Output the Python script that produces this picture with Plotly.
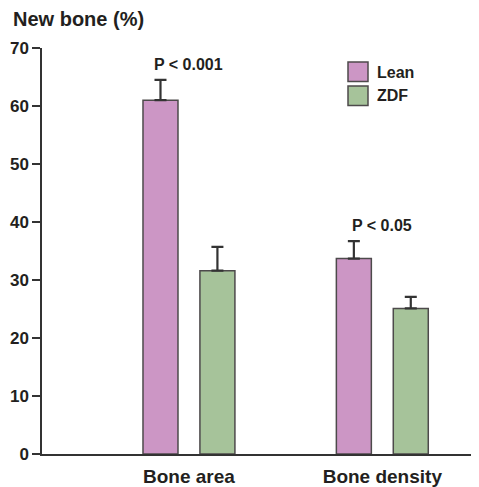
import plotly.graph_objects as go

categories = ["Bone area", "Bone density"]
lean_values = [61.0, 33.7]
lean_errors = [3.5, 3.0]
zdf_values = [31.6, 25.1]
zdf_errors = [4.1, 2.0]
p_labels = ["P < 0.001", "P < 0.05"]
y_ticks = [0, 10, 20, 30, 40, 50, 60, 70]

FONT = "Liberation Sans"
TXT = "#231f20"
LEAN_C = "#cc96c5"
ZDF_C = "#a6c39a"
EDGE = "#4d4a4b"

# page body has an 8px margin, so the figure starts at (8, 8)
OFF = 8
W, H = 479 - OFF, 487 - OFF
ML, MR, MT, MB = 42 - OFF, 0, 48 - OFF, 33
PW, PH = W - ML - MR, H - MT - MB

bar_w = 0.181
half = 0.2377

fig = go.Figure()
fig.add_trace(go.Bar(
    x=categories, y=lean_values, name="Lean",
    width=bar_w, offset=-half,
    marker=dict(color=LEAN_C, line=dict(color=EDGE, width=1.5)),
    error_y=dict(type="data", array=lean_errors, arrayminus=[0] * len(lean_errors),
                 symmetric=False, color="#333333", thickness=2.2, width=6),
))
fig.add_trace(go.Bar(
    x=categories, y=zdf_values, name="ZDF",
    width=bar_w, offset=half - bar_w,
    marker=dict(color=ZDF_C, line=dict(color=EDGE, width=1.5)),
    error_y=dict(type="data", array=zdf_errors, arrayminus=[0] * len(zdf_errors),
                 symmetric=False, color="#333333", thickness=2.2, width=6),
))

# P-value annotations above the Lean error bars, centred on each group
for cat, v, e, lab in zip(categories, lean_values, lean_errors, p_labels):
    fig.add_annotation(x=cat, y=v + e, text=lab, showarrow=False,
                       xanchor="center", yanchor="bottom", yshift=5,
                       font=dict(family=FONT, size=16, color=TXT, weight="bold"))


def px_x(p):
    return (p - OFF - ML) / PW


def px_y(p):
    return (H + OFF - MB - p) / PH


# y-axis title
fig.add_annotation(xref="paper", yref="paper", x=px_x(11), y=px_y(18.5),
                   text="New bone (%)", showarrow=False, xanchor="left", yanchor="middle",
                   font=dict(family=FONT, size=20, color=TXT, weight="bold"))

# manual legend
for name, col, top in [("Lean", LEAN_C, 62), ("ZDF", ZDF_C, 86)]:
    fig.add_shape(type="rect", xref="paper", yref="paper",
                  x0=px_x(348), x1=px_x(368), y0=px_y(top + 19.5), y1=px_y(top),
                  fillcolor=col, line=dict(color=EDGE, width=1.5))
    fig.add_annotation(xref="paper", yref="paper", x=px_x(375), y=px_y(top + 10),
                       text=name, showarrow=False, xanchor="left", yanchor="middle",
                       font=dict(family=FONT, size=16, color=TXT, weight="bold"))

fig.update_layout(
    width=W, height=H,
    margin=dict(l=ML, r=MR, t=MT, b=MB, pad=0),
    plot_bgcolor="white", paper_bgcolor="white",
    showlegend=False,
    barmode="overlay",
    font=dict(family=FONT, color=TXT),
)
fig.update_xaxes(
    type="category", range=[-0.76, 1.5],
    showline=True, linecolor="#333333", linewidth=1.5,
    ticks="outside", ticklen=4, tickcolor="rgba(0,0,0,0)",
    tickfont=dict(family=FONT, size=19, color=TXT, weight="bold"),
    showgrid=False, zeroline=False, automargin=False,
)
fig.update_yaxes(
    range=[0, 70], tickvals=y_ticks,
    showline=True, linecolor="#333333", linewidth=1.5,
    ticks="outside", ticklen=8, tickcolor="#333333", tickwidth=1.5,
    tickfont=dict(family=FONT, size=17, color=TXT, weight="bold"),
    showgrid=False, zeroline=False, automargin=False,
)

fig.write_html("out.html")
